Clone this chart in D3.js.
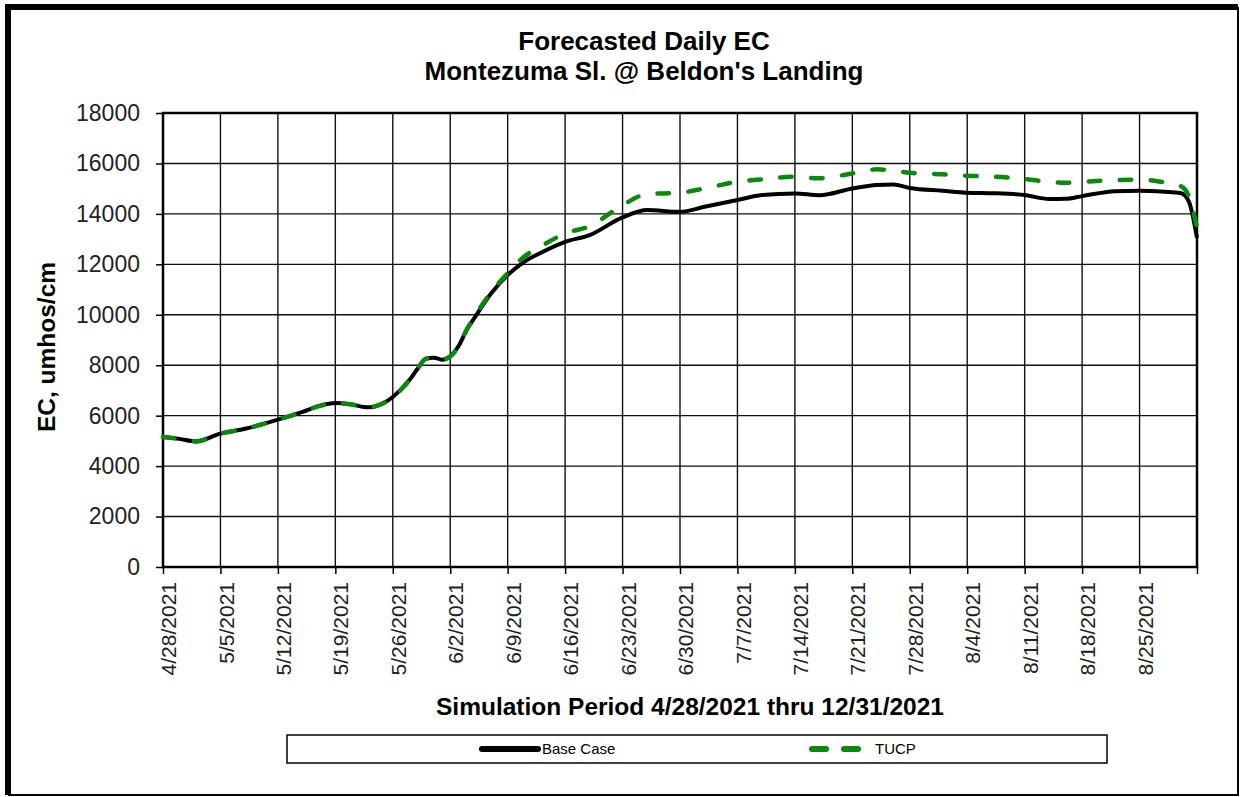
<!DOCTYPE html>
<html>
<head>
<meta charset="utf-8">
<script src="https://cdn.jsdelivr.net/npm/d3@7"></script>
<style>
  body { margin: 0; background: #fff; }
  svg { display: block; font-family: 'Liberation Sans', Arial, sans-serif; }
</style>
</head>
<body>
<div id="chart"></div>
<script>
// sample dates (both series share them)
var dates = ['4/28/2021','4/30/2021','5/2/2021','5/5/2021','5/8/2021','5/12/2021','5/15/2021','5/17/2021',
  '5/19/2021','5/21/2021','5/23/2021','5/25/2021','5/26/2021','5/28/2021','5/29/2021','5/30/2021','5/31/2021',
  '6/1/2021','6/2/2021','6/3/2021','6/4/2021','6/5/2021','6/7/2021','6/9/2021','6/11/2021','6/13/2021',
  '6/16/2021','6/19/2021','6/23/2021','6/26/2021','6/30/2021','7/3/2021','7/7/2021','7/10/2021','7/14/2021',
  '7/17/2021','7/21/2021','7/24/2021','7/26/2021','7/28/2021','8/1/2021','8/4/2021','8/7/2021','8/11/2021',
  '8/14/2021','8/16/2021','8/18/2021','8/22/2021','8/25/2021','8/28/2021','8/30/2021','8/31/2021','9/1/2021']

var baseCase = [5150,5080,4980,5290,5480,5840,6150,6380,
  6500,6440,6330,6520,6740,7400,7850,8250,8300,
  8220,8350,8750,9400,9900,10850,11570,12100,12450,
  12890,13160,13860,14150,14080,14280,14550,14745,14810,
  14740,15010,15150,15170,15030,14920,14840,14820,14745,
  14590,14600,14705,14900,14920,14880,14830,14500,13050]

var tucp = [5150,5080,4980,5290,5480,5840,6150,6380,
  6500,6440,6330,6520,6740,7400,7850,8250,8300,
  8220,8350,8750,9400,9950,10900,11650,12300,12700,
  13225,13515,14350,14785,14840,15010,15275,15370,15470,
  15410,15605,15765,15720,15630,15570,15510,15480,15380,
  15270,15230,15270,15340,15360,15250,15100,14700,13450]

var xTickLabels = ['4/28/2021','5/5/2021','5/12/2021','5/19/2021','5/26/2021','6/2/2021','6/9/2021',
  '6/16/2021','6/23/2021','6/30/2021','7/7/2021','7/14/2021','7/21/2021','7/28/2021','8/4/2021',
  '8/11/2021','8/18/2021','8/25/2021']
var xEnd = '9/1/2021'
var yTicks = [0,2000,4000,6000,8000,10000,12000,14000,16000,18000]

var title1 = 'Forecasted Daily EC'
var title2 = "Montezuma Sl. @ Beldon's Landing"
var yTitle = 'EC, umhos/cm'
var xTitle = 'Simulation Period 4/28/2021 thru 12/31/2021'
var seriesNames = ['Base Case', 'TUCP']

var W = 1241, H = 797
var margin = {top: 113, left: 163, right: W - 1197, bottom: H - 567}
var width = W - margin.left - margin.right
var height = H - margin.top - margin.bottom
var parse = d3.utcParse('%m/%d/%Y')

var svg = d3.select('#chart').append('svg').attr('width', W).attr('height', H)
svg.append('rect').attr('width', W).attr('height', H).attr('fill', '#fff')

// outer frame (heavy on top/left, lighter on right/bottom)
svg.append('path').attr('d', 'M8,795 L8,7 L1238,7').attr('fill', 'none').attr('stroke', '#000').attr('stroke-width', 6)
svg.append('path').attr('d', 'M1238,7 L1238,795 L8,795').attr('fill', 'none').attr('stroke', '#000').attr('stroke-width', 2)

var g = svg.append('g').attr('transform', 'translate(' + margin.left + ',' + margin.top + ')')

var x = d3.scaleUtc().domain([parse(xTickLabels[0]), parse(xEnd)]).range([0, width])
var y = d3.scaleLinear().domain([0, 18000]).range([height, 0])

// gridlines
var gridDates = xTickLabels.concat([xEnd]).map(parse)
g.selectAll('.vgrid').data(gridDates).enter().append('line')
  .attr('x1', d => x(d)).attr('x2', d => x(d)).attr('y1', 0).attr('y2', height)
  .attr('stroke', '#111').attr('stroke-width', 1.4)
g.selectAll('.hgrid').data(yTicks).enter().append('line')
  .attr('x1', 0).attr('x2', width).attr('y1', d => y(d)).attr('y2', d => y(d))
  .attr('stroke', '#111').attr('stroke-width', 1.4)

// axes
var yAxis = d3.axisLeft(y).tickValues(yTicks).tickSize(7).tickPadding(16).tickFormat(d3.format('d'))
g.append('g').call(yAxis)
  .call(a => a.select('.domain').remove())
  .call(a => a.selectAll('line').attr('stroke', '#000').attr('stroke-width', 1.5))
  .call(a => a.selectAll('text').attr('font-size', 23).attr('fill', '#222').attr('font-family', "'Liberation Sans', Arial, sans-serif"))

var xAxis = d3.axisBottom(x).tickValues(gridDates).tickSize(7).tickFormat((d, i) => xTickLabels[i] || '')
g.append('g').attr('transform', 'translate(0,' + height + ')').call(xAxis)
  .call(a => a.select('.domain').remove())
  .call(a => a.selectAll('line').attr('stroke', '#000').attr('stroke-width', 1.5))
  .call(a => a.selectAll('text')
    .attr('font-size', 21).attr('fill', '#222').attr('font-family', "'Liberation Sans', Arial, sans-serif")
    .attr('text-anchor', 'end').attr('transform', 'rotate(-90)')
    .attr('x', -15).attr('y', 0).attr('dy', '0.6em'))

// plot border
g.append('rect').attr('width', width).attr('height', height)
  .attr('fill', 'none').attr('stroke', '#000').attr('stroke-width', 2.5)

// lines
var baseData = dates.map((d, i) => ({date: parse(d), value: baseCase[i]}))
var tucpData = dates.map((d, i) => ({date: parse(d), value: tucp[i]}))
var line = d3.line().x(d => x(d.date)).y(d => y(d.value)).curve(d3.curveMonotoneX)

g.append('path').datum(baseData).attr('d', line)
  .attr('fill', 'none').attr('stroke', '#000').attr('stroke-width', 4).attr('stroke-linejoin', 'round')
g.append('path').datum(tucpData).attr('d', line)
  .attr('fill', 'none').attr('stroke', '#0a8a0a').attr('stroke-width', 4.5)
  .attr('stroke-dasharray', '11.5,19.5').attr('stroke-linecap', 'round')

// titles
svg.append('text').attr('x', 644).attr('y', 50).attr('text-anchor', 'middle')
  .attr('font-size', 26).attr('font-weight', 'bold').attr('fill', '#000').text(title1)
svg.append('text').attr('x', 644).attr('y', 80).attr('text-anchor', 'middle')
  .attr('font-size', 26).attr('font-weight', 'bold').attr('fill', '#000').text(title2)
svg.append('text').attr('transform', 'translate(55,347) rotate(-90)').attr('text-anchor', 'middle')
  .attr('font-size', 24.5).attr('font-weight', 'bold').attr('fill', '#000').text(yTitle)
svg.append('text').attr('x', 690).attr('y', 715).attr('text-anchor', 'middle')
  .attr('font-size', 24.5).attr('font-weight', 'bold').attr('fill', '#000').text(xTitle)

// legend
var leg = svg.append('g')
leg.append('rect').attr('x', 287).attr('y', 735).attr('width', 820).attr('height', 28)
  .attr('fill', '#fff').attr('stroke', '#000').attr('stroke-width', 1.5)
leg.append('line').attr('x1', 482).attr('x2', 538).attr('y1', 749).attr('y2', 749)
  .attr('stroke', '#000').attr('stroke-width', 6).attr('stroke-linecap', 'round')
leg.append('text').attr('x', 542).attr('y', 754).attr('font-size', 15).attr('fill', '#000').text(seriesNames[0])
leg.append('line').attr('x1', 812).attr('x2', 862).attr('y1', 749).attr('y2', 749)
  .attr('stroke', '#0a8a0a').attr('stroke-width', 6).attr('stroke-linecap', 'round').attr('stroke-dasharray', '14,18')
leg.append('text').attr('x', 875).attr('y', 754).attr('font-size', 15).attr('fill', '#000').text(seriesNames[1])
</script>
</body>
</html>
